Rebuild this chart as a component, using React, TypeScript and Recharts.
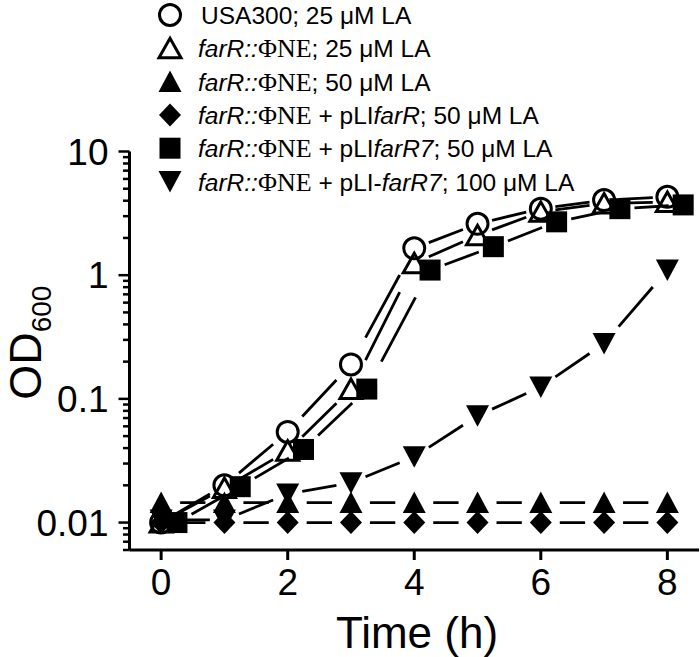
import React from 'react';
import { LineChart, Line, XAxis, YAxis, Legend } from 'recharts';

// ---- data ----
const hours = [0, 1, 2, 3, 4, 5, 6, 7, 8];
const squareHours = [0.25, 1.25, 2.25, 3.25, 4.25, 5.25, 6.25, 7.25, 8.25];

const usa300_25uM = [0.01, 0.02, 0.054, 0.19, 1.65, 2.6, 3.45, 4.05, 4.3];
const farR_25uM = [0.01, 0.019, 0.038, 0.12, 1.25, 2.1, 3.25, 3.8, 3.9];
const farR_50uM = [0.0145, 0.0145, 0.0145, 0.0145, 0.0145, 0.0145, 0.0145, 0.0145, 0.0145];
const farR_pLIfarR_50uM = [0.01, 0.01, 0.01, 0.01, 0.01, 0.01, 0.01, 0.01, 0.01];
const farR_pLIfarR7_50uM = [0.01, 0.0195, 0.039, 0.12, 1.1, 1.7, 2.7, 3.45, 3.7];
const farR_pLIfarR7_100uM = [0.0105, 0.0105, 0.017, 0.021, 0.034, 0.073, 0.125, 0.28, 1.1];

const xTicks = [0, 2, 4, 6, 8];
const yMajorTicks = [0.01, 0.1, 1, 10];
const yTicks = [
  0.006, 0.007, 0.008, 0.009,
  0.01, 0.02, 0.03, 0.04, 0.05, 0.06, 0.07, 0.08, 0.09,
  0.1, 0.2, 0.3, 0.4, 0.5, 0.6, 0.7, 0.8, 0.9,
  1, 2, 3, 4, 5, 6, 7, 8, 9,
  10,
];

type Part = { t: string; i?: boolean; s?: boolean };
const legendLabels: Part[][] = [
  [{ t: 'USA300; 25 μM LA' }],
  [{ t: 'farR::', i: true }, { t: 'ΦNE', s: true }, { t: '; 25 μM LA' }],
  [{ t: 'farR::', i: true }, { t: 'ΦNE', s: true }, { t: '; 50 μM LA' }],
  [{ t: 'farR::', i: true }, { t: 'ΦNE', s: true }, { t: ' + pLI' }, { t: 'farR', i: true }, { t: '; 50 μM LA' }],
  [{ t: 'farR::', i: true }, { t: 'ΦNE', s: true }, { t: ' + pLI' }, { t: 'farR7', i: true }, { t: '; 50 μM LA' }],
  [{ t: 'farR::', i: true }, { t: 'ΦNE', s: true }, { t: ' + pLI-' }, { t: 'farR7', i: true }, { t: '; 100 μM LA' }],
];

const FONT = '"Liberation Sans", Arial, Helvetica, sans-serif';
const SERIF = '"Liberation Serif", "Times New Roman", serif';

type Pt = { t: number; v: number };
const toPoints = (ts: number[], vs: number[]): Pt[] => ts.map((t, i) => ({ t, v: vs[i] }));

type Kind = 'circle' | 'openTri' | 'tri' | 'diamond' | 'square' | 'invTri';
const series: { key: string; kind: Kind; pts: Pt[]; dash: string }[] = [
  { key: 'usa25', kind: 'circle', pts: toPoints(hours, usa300_25uM), dash: '0 23 54 23' },
  { key: 'farR25', kind: 'openTri', pts: toPoints(hours, farR_25uM), dash: '0 23 54 23' },
  { key: 'farR50', kind: 'tri', pts: toPoints(hours, farR_50uM), dash: '0 30 40 30' },
  { key: 'farR7_100', kind: 'invTri', pts: toPoints(hours, farR_pLIfarR7_100uM), dash: '0 23 54 23' },
  { key: 'pLIfarR50', kind: 'diamond', pts: toPoints(hours, farR_pLIfarR_50uM), dash: '0 30 40 30' },
  { key: 'farR7_50', kind: 'square', pts: toPoints(squareHours, farR_pLIfarR7_50uM), dash: '0 23 54 23' },
];
const legendKinds: Kind[] = ['circle', 'openTri', 'tri', 'diamond', 'square', 'invTri'];

function Marker({ kind, cx, cy }: { kind: Kind; cx: number; cy: number }) {
  switch (kind) {
    case 'circle':
      return <circle cx={cx} cy={cy} r={10.5} fill="none" stroke="#000" strokeWidth={3} />;
    case 'openTri':
      return (
        <path
          d={`M${cx},${cy - 10} L${cx + 11},${cy + 9.5} L${cx - 11},${cy + 9.5} Z`}
          fill="none"
          stroke="#000"
          strokeWidth={3}
        />
      );
    case 'tri':
      return <path d={`M${cx},${cy - 11} L${cx + 11.5},${cy + 10.5} L${cx - 11.5},${cy + 10.5} Z`} fill="#000" />;
    case 'diamond':
      return <path d={`M${cx},${cy - 11.5} L${cx + 11},${cy} L${cx},${cy + 11.5} L${cx - 11},${cy} Z`} fill="#000" />;
    case 'square':
      return <rect x={cx - 10.5} y={cy - 10.5} width={21} height={21} fill="#000" />;
    case 'invTri':
      return <path d={`M${cx - 11.5},${cy - 10.5} L${cx + 11.5},${cy - 10.5} L${cx},${cy + 11} Z`} fill="#000" />;
  }
  return null;
}

const YTick = (props: any) => {
  const { x, y, payload } = props;
  const v = payload.value;
  const major = yMajorTicks.indexOf(v) >= 0;
  return (
    <g>
      <line x1={x - (major ? 11 : 6.5)} x2={x} y1={y} y2={y} stroke="#000" strokeWidth={2.5} />
      {major && (
        <text x={x - 21} y={y + 13} textAnchor="end" fontSize={37} fontFamily={FONT} fill="#000">
          {String(v)}
        </text>
      )}
    </g>
  );
};

const XTick = (props: any) => {
  const { x, y, payload } = props;
  return (
    <g>
      <line x1={x} x2={x} y1={y} y2={y + 10} stroke="#000" strokeWidth={3} />
      <text x={x} y={y + 45} textAnchor="middle" fontSize={37} fontFamily={FONT} fill="#000">
        {String(payload.value)}
      </text>
    </g>
  );
};

const YTitle = (props: any) => {
  const vb = props.viewBox || { x: 0, y: 0, width: 0, height: 0 };
  const cy = vb.y + vb.height / 2 - 8;
  return (
    <text
      transform={`translate(41,${cy}) rotate(-90)`}
      x={0}
      y={0}
      textAnchor="middle"
      fontSize={45}
      fontFamily={FONT}
      fill="#000"
    >
      OD
      <tspan fontSize={28} dy={10}>
        600
      </tspan>
    </text>
  );
};

const XTitle = (props: any) => {
  const vb = props.viewBox || { x: 0, y: 0, width: 0, height: 0 };
  return (
    <text x={417} y={vb.y + 98} textAnchor="middle" fontSize={44} fontFamily={FONT} fill="#000">
      Time (h)
    </text>
  );
};

const LegendContent = () => (
  <svg width={700} height={200} style={{ display: 'block' }}>
    {legendLabels.map((parts, i) => {
      const cy = 15 + 33.3 * i;
      return (
        <g key={i}>
          <Marker kind={legendKinds[i]} cx={170} cy={cy} />
          <text x={i === 0 ? 201 : 198} y={cy + 9} fontSize={24.5} fontFamily={FONT} fill="#000">
            {parts.map((p, j) => (
              <tspan
                key={j}
                fontStyle={p.i ? 'italic' : 'normal'}
                fontFamily={p.s ? SERIF : FONT}
                fontSize={p.s ? 26 : 24.5}
              >
                {p.t}
              </tspan>
            ))}
          </text>
        </g>
      );
    })}
  </svg>
);

export default function App() {
  const lines: React.ReactNode[] = [];
  series.forEach((s) => {
    for (let i = 0; i < s.pts.length - 1; i++) {
      lines.push(
        <Line
          key={`${s.key}-seg-${i}`}
          data={[s.pts[i], s.pts[i + 1]]}
          dataKey="v"
          type="linear"
          stroke="#000"
          strokeWidth={2.8}
          strokeDasharray={s.dash}
          {...({ pathLength: 100 } as any)}
          dot={false}
          activeDot={false}
          legendType="none"
          isAnimationActive={false}
        />
      );
    }
  });
  const markers = series.map((s) => (
    <Line
      key={`${s.key}-marks`}
      data={s.pts}
      dataKey="v"
      stroke="none"
      strokeWidth={0}
      legendType="none"
      activeDot={false}
      isAnimationActive={false}
      dot={(p: any) =>
        p.cx == null || p.cy == null ? (
          <g key={`${s.key}-d-${p.index}`} />
        ) : (
          <g key={`${s.key}-d-${p.index}`}>
            <Marker kind={s.kind} cx={p.cx} cy={p.cy} />
          </g>
        )
      }
    />
  ));

  return (
    <div style={{ position: 'absolute', left: 0, top: 0, width: 700, height: 657, background: '#fff' }}>
      <LineChart
        width={700}
        height={657}
        margin={{ top: 151.5, right: 1, left: 69.5, bottom: 47 }}
      >
        <XAxis
          type="number"
          dataKey="t"
          domain={[-0.5, 8.5]}
          allowDataOverflow
          ticks={xTicks}
          interval={0}
          height={60}
          tickSize={0}
          tickMargin={0}
          tickLine={false}
          axisLine={{ stroke: '#000', strokeWidth: 3 }}
          tick={(p: any) => <XTick {...p} />}
          label={<XTitle />}
        />
        <YAxis
          type="number"
          scale="log"
          domain={[0.006, 10]}
          allowDataOverflow
          ticks={yTicks}
          interval={0}
          width={60}
          tickSize={0}
          tickMargin={0}
          tickLine={false}
          axisLine={{ stroke: '#000', strokeWidth: 3 }}
          tick={(p: any) => <YTick {...p} />}
          label={<YTitle />}
        />
        {lines}
        {markers}
        <Legend
          layout="vertical"
          align="center"
          verticalAlign="middle"
          content={() => <LegendContent />}
          wrapperStyle={{ top: 0, left: 0, width: 700, height: 200, bottom: 'auto', right: 'auto' }}
        />
      </LineChart>
    </div>
  );
}
